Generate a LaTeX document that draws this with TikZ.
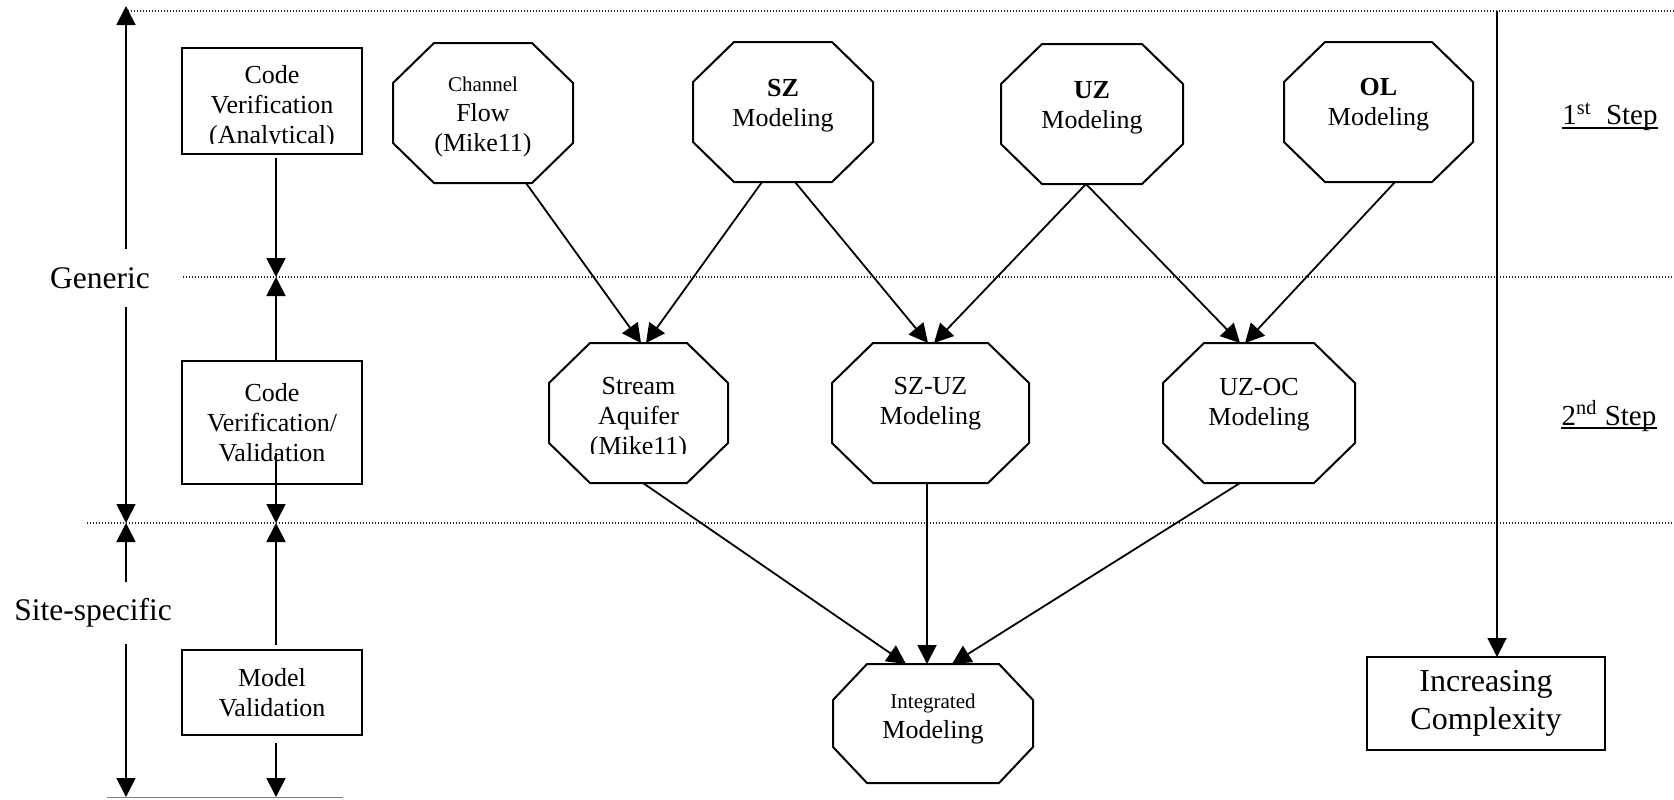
\documentclass[tikz,border=0pt]{standalone}
\usepackage{fontspec}
\setmainfont{Liberation Serif}
\usetikzlibrary{arrows.meta,calc}
\newcommand\smalltxt{\fontsize{10.5}{15}\selectfont}
\newcommand\octpath[3]{%
  \draw[octline] ($(#1.north west)+(#2,0)$) -- ($(#1.north east)+(-#2,0)$)
    -- ($(#1.north east)+(0,#3)$) -- ($(#1.south east)+(0,-#3)$)
    -- ($(#1.south east)+(-#2,0)$) -- ($(#1.south west)+(#2,0)$)
    -- ($(#1.south west)+(0,-#3)$) -- ($(#1.north west)+(0,#3)$) -- cycle;}
\tikzset{
  arr/.style={line width=0.9pt, -{Triangle[length=9.5pt,width=9.5pt]}},
  boxnode/.style={draw, line width=1pt, rectangle, inner sep=0pt, outer sep=0pt,
    align=center, font=\fontsize{13}{15}\selectfont},
  octnode/.style={rectangle, inner sep=0pt, outer sep=0pt},
  octline/.style={line width=1pt, line join=miter},
  octtext/.style={align=center, inner sep=0pt, font=\fontsize{13}{15}\selectfont},
  sidelabel/.style={font=\fontsize{15.75}{18}\selectfont, inner sep=9pt},
  dotline/.style={line width=0.7pt, black!85, dash pattern=on 0.6pt off 0.9pt},
  steplabel/.style={font=\fontsize{14.5}{17}\selectfont, inner sep=0pt},
  uline/.style={line width=0.8pt},
}
\begin{document}
\begin{tikzpicture}[x=0.5pt,y=-0.5pt]
\useasboundingbox (0,0) rectangle (1674,799);
% dotted level lines
\draw[dotline] (128,11) -- (1674,11);
\draw[dotline] (183,277) -- (1674,277);
\draw[dotline] (87,523) -- (1674,523);
\draw[gray, line width=0.5pt] (107,797.5) -- (343,797.5);

% left labels and arrows
\node[sidelabel] (gen) at (100,278) {Generic};
\node[sidelabel, inner sep=8pt] (site) at (93,613) {Site-specific};
\coordinate (ltop) at (126,6);
\coordinate (lmid) at (126,523);
\coordinate (lbot) at (126,797);
\draw[arr] (gen.north -| ltop) -- (ltop);
\draw[arr] (gen.south -| lmid) -- (lmid);
\draw[arr] (site.north -| lmid) -- (lmid);
\draw[arr] (site.south -| lbot) -- (lbot);

% centre column boxes
\node[boxnode, minimum width=90pt, minimum height=53pt] (b1) at (272,101) {};
\begin{scope}
  \clip (182,48) rectangle (362,143);
  \node[octtext] (b1t) at (272,107) {Code\\Verification\\(Analytical)};
\end{scope}
\node[boxnode, minimum width=90pt, minimum height=61.5pt] (b2) at (272,422.5) {Code\\Verification/\\Validation};
\node[boxnode, minimum width=90pt, minimum height=42.5pt] (b3) at (272,692.5) {Model\\Validation};
\coordinate (cgen) at (276,277);
\coordinate (csite) at (276,523);
\coordinate (cbot) at (276,797);
\draw[arr] ($(b1.south -| cgen)+(0,4)$) -- (cgen);
\draw[arr] (b2.north -| cgen) -- (cgen);
\draw[arr] ($(b2.south -| csite)+(0,-31)$) -- (csite);
\draw[arr] ($(b3.north -| csite)+(0,-5)$) -- (csite);
\draw[arr] ($(b3.south -| cbot)+(0,8)$) -- (cbot);

% octagons
\node[octnode, minimum width=90pt, minimum height=70pt] (cf) at (483,113) {};
\node[octnode, minimum width=90pt, minimum height=70pt] (sz) at (783,112) {};
\node[octnode, minimum width=91pt, minimum height=70pt] (uz) at (1092,114) {};
\node[octnode, minimum width=94.5pt, minimum height=70pt] (ol) at (1378.5,112) {};
\node[octnode, minimum width=89.5pt, minimum height=70pt] (sa) at (638.5,413) {};
\node[octnode, minimum width=98.5pt, minimum height=70pt] (szuz) at (930.5,413) {};
\node[octnode, minimum width=96pt, minimum height=70pt] (uzoc) at (1259,413) {};
\node[octnode, minimum width=100pt, minimum height=59.5pt] (int) at (933,723.5) {};
\octpath{cf}{41}{40}
\octpath{sz}{41}{40}
\octpath{uz}{41}{40}
\octpath{ol}{41}{40}
\octpath{sa}{41}{40}
\octpath{szuz}{41}{40}
\octpath{uzoc}{41}{40}
\octpath{int}{34}{36}

% octagon texts
\node[octtext] (cft) at (483,117) {{\smalltxt Channel}\\Flow\\(Mike11)};
\node[octtext] (szt) at (783,106) {\textbf{SZ}\\Modeling};
\node[octtext] (uzt) at (1092,108) {\textbf{UZ}\\Modeling};
\node[octtext] (olt) at (1378.5,105) {\textbf{OL}\\Modeling};
\begin{scope}
  \clip (549,343) rectangle (728,453);
  \node[octtext] (sat) at (638.5,419) {Stream\\Aquifer\\(Mike11)};
\end{scope}
\node[octtext] (szuzt) at (930.5,404) {SZ-UZ\\Modeling};
\node[octtext] (uzoct) at (1259,405) {UZ-OC\\Modeling};
\node[octtext] (intt) at (933,719) {{\smalltxt Integrated}\\Modeling};

% connectors between octagons
\draw[arr] ($(cf.south)+(43,0)$) -- ($(sa.north)+(2.5,0)$);
\draw[arr] ($(sz.south)+(-21,0)$) -- ($(sa.north)+(7.5,0)$);
\draw[arr] ($(sz.south)+(12,0)$) -- ($(szuz.north)+(-2.5,0)$);
\draw[arr] ($(uz.south)+(-6,0)$) -- ($(szuz.north)+(3.5,0)$);
\draw[arr] ($(uz.south)+(-6,0)$) -- ($(uzoc.north)+(-19,0)$);
\draw[arr] ($(ol.south)+(16.5,0)$) -- ($(uzoc.north)+(-14,0)$);
\draw[arr] ($(sa.south)+(4.5,0)$) -- ($(int.north)+(-27,0)$);
\draw[arr] ($(szuz.south)+(-3.5,0)$) -- ($(int.north)+(-6,0)$);
\draw[arr] ($(uzoc.south)+(-19,0)$) -- ($(int.north)+(19,0)$);

% right side
\node[boxnode, font=\fontsize{16}{19}\selectfont, minimum width=119pt, minimum height=46.5pt] (ic) at (1486,703.5) {Increasing\\Complexity};
\coordinate (rtop) at (1497,11);
\draw[arr] (rtop) -- (ic.north -| rtop);
\node[steplabel] (s1) at (1610,117) {1\textsuperscript{st}\ \ Step};
\node[steplabel] (s2) at (1609,416) {2\textsuperscript{nd} Step};
\draw[uline] ($(s1.base west)+(0,3)$) -- ($(s1.base east)+(0,3)$);
\draw[uline] ($(s2.base west)+(0,3)$) -- ($(s2.base east)+(0,3)$);
\end{tikzpicture}
\end{document}
